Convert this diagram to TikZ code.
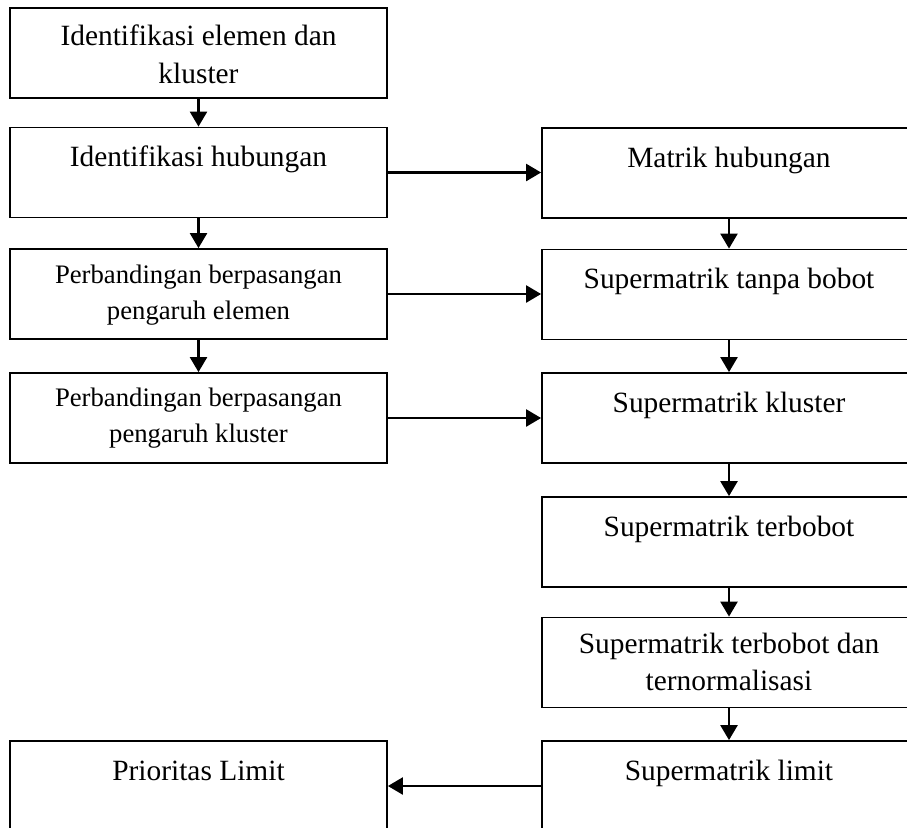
\documentclass[tikz,border=0pt]{standalone}
\usepackage{fontspec}
\setmainfont{Liberation Serif}
\usetikzlibrary{arrows.meta}
\begin{document}
\begin{tikzpicture}[x=1pt,y=-1pt,
  stepbox/.style={draw=black, line width=1.8pt, rectangle, inner sep=0pt, minimum height=90pt},
  lbox/.style={stepbox, minimum width=377pt},
  rbox/.style={stepbox, minimum width=374pt},
  big/.style={font=\fontsize{29.4pt}{37.5pt}\selectfont, anchor=base, align=center, inner sep=0pt},
  small/.style={font=\fontsize{26.7pt}{36pt}\selectfont, anchor=base, align=center, inner sep=0pt},
  flow/.style={line width=2.4pt, -{Triangle[length=15pt,width=17pt]}}]
\useasboundingbox (0,0) rectangle (907,827);
\clip (0,0) rectangle (907,827);

% left column
\node[lbox] (b1) at (198.5,53) {};
\node[lbox] (b2) at (198.5,172.5) {};
\node[lbox] (b3) at (198.5,294) {};
\node[lbox] (b4) at (198.5,418) {};
\node[lbox] (b5) at (198.5,786) {};

% right column
\node[rbox] (r1) at (729,173) {};
\node[rbox] (r2) at (729,294.5) {};
\node[rbox] (r3) at (729,418) {};
\node[rbox] (r4) at (729,542) {};
\node[rbox] (r5) at (729,662.5) {};
\node[rbox] (r6) at (729,786) {};

% labels, set near the top of each box (base = last line)
\node[big]   (t1) at ([yshift=-76pt]b1.north) {Identifikasi elemen dan\\kluster};
\node[big]   (t2) at ([yshift=-40pt]b2.north) {Identifikasi hubungan};
\node[small] (t3) at ([yshift=-71pt]b3.north) {Perbandingan berpasangan\\pengaruh elemen};
\node[small] (t4) at ([yshift=-70pt]b4.north) {Perbandingan berpasangan\\pengaruh kluster};
\node[big]   (t5) at ([yshift=-40pt]b5.north) {Prioritas Limit};

\node[big] (u1) at ([yshift=-40pt]r1.north) {Matrik hubungan};
\node[big] (u2) at ([yshift=-40pt]r2.north) {Supermatrik tanpa bobot};
\node[big] (u3) at ([yshift=-40pt]r3.north) {Supermatrik kluster};
\node[big] (u4) at ([yshift=-40pt]r4.north) {Supermatrik terbobot};
\node[big] (u5) at ([yshift=-74pt]r5.north) {Supermatrik terbobot dan\\ternormalisasi};
\node[big] (u6) at ([yshift=-40pt]r6.north) {Supermatrik limit};

% connectors
\draw[flow] (b1.south) -- (b2.north);
\draw[flow] (b2.south) -- (b3.north);
\draw[flow] (b3.south) -- (b4.north);

\draw[flow] (r1.south) -- (r2.north);
\draw[flow] (r2.south) -- (r3.north);
\draw[flow] (r3.south) -- (r4.north);
\draw[flow] (r4.south) -- (r5.north);
\draw[flow] (r5.south) -- (r6.north);

\draw[flow] (b2.east) -- (b2.east -| r1.west);
\draw[flow] (b3.east) -- (b3.east -| r2.west);
\draw[flow] (b4.east) -- (b4.east -| r3.west);
\draw[flow] (r6.west) -- (b5.east);
\end{tikzpicture}
\end{document}
